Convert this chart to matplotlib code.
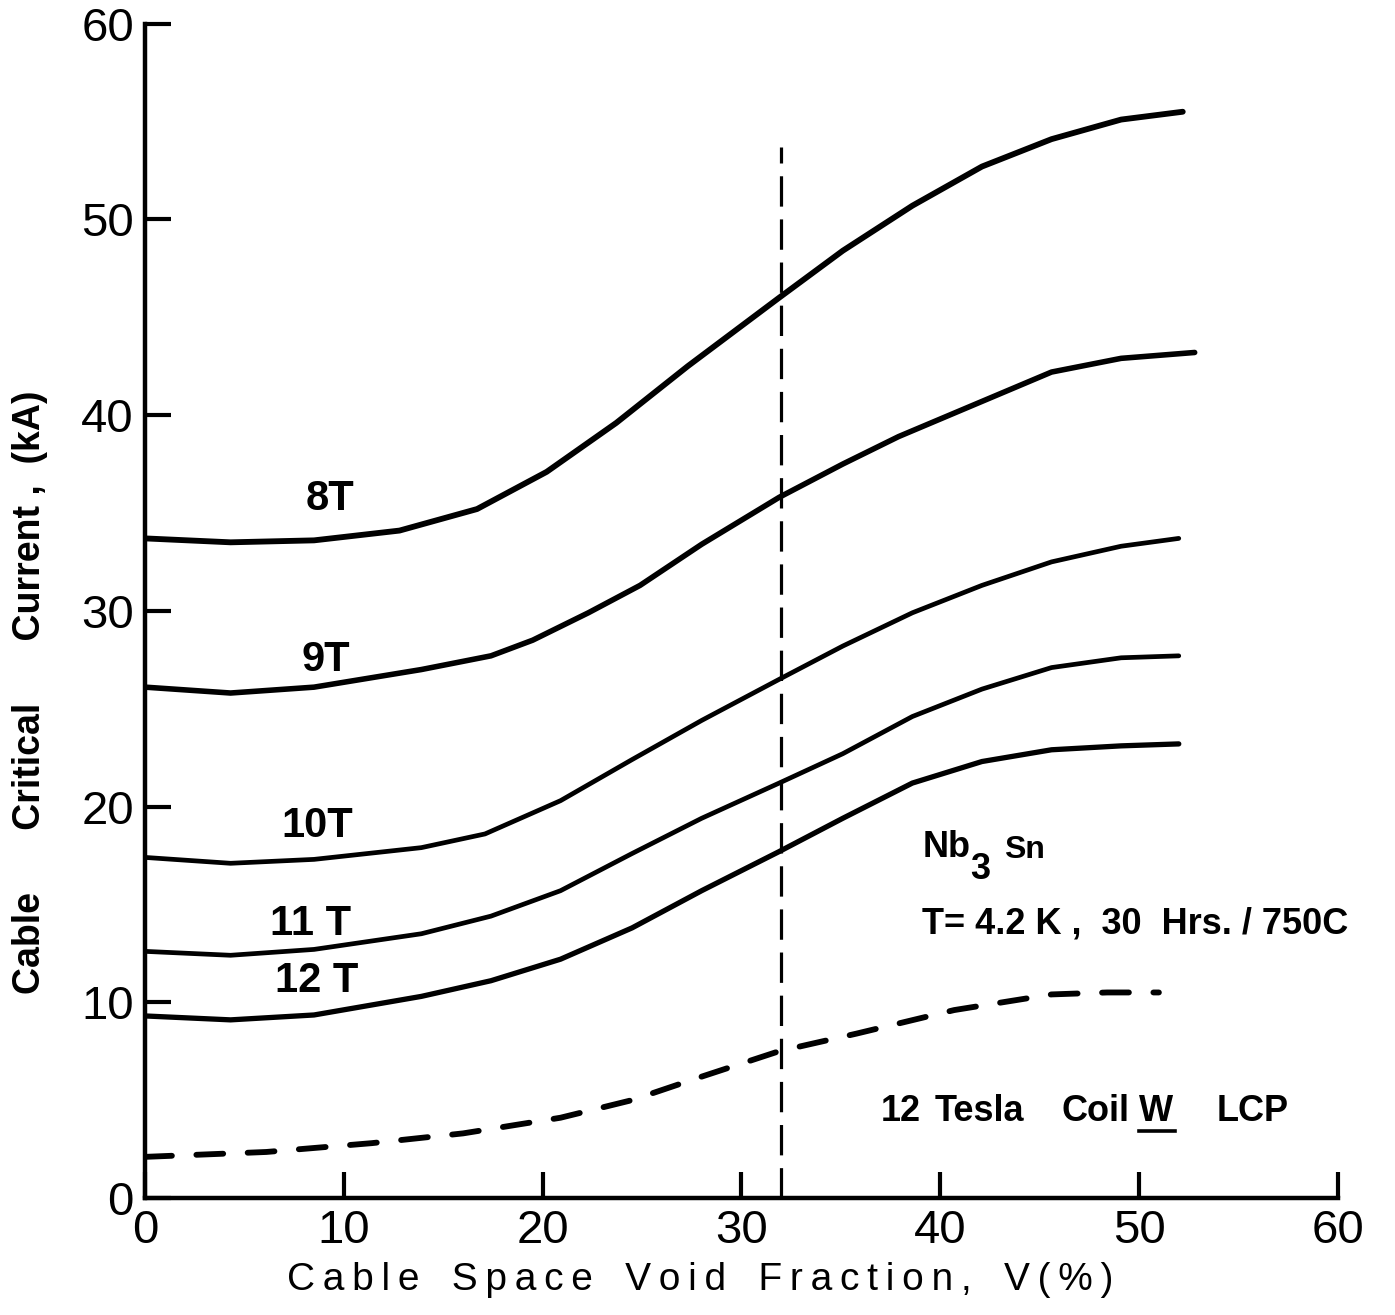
import matplotlib.pyplot as plt

# critical current (kA) vs cable space void fraction (%)
v_8t = [0, 4.3, 8.5, 12.8, 16.7, 20.2, 23.7, 27.3, 31.9, 35.1, 38.6, 42.1, 45.6, 49.1, 52.2]
ic_8t = [33.7, 33.5, 33.6, 34.1, 35.2, 37.1, 39.6, 42.5, 46.0, 48.4, 50.7, 52.7, 54.1, 55.1, 55.5]

v_9t = [0, 4.3, 8.5, 13.9, 17.4, 19.5, 22.3, 24.9, 28.0, 31.9, 35.1, 37.9, 41.4, 45.6, 49.1, 52.8]
ic_9t = [26.1, 25.8, 26.1, 27.0, 27.7, 28.5, 29.9, 31.3, 33.4, 35.8, 37.5, 38.9, 40.4, 42.2, 42.9, 43.2]

v_10t = [0, 4.3, 8.5, 13.9, 17.1, 20.9, 24.5, 28.0, 31.9, 35.1, 38.6, 42.1, 45.6, 49.1, 52.0]
ic_10t = [17.4, 17.1, 17.3, 17.9, 18.6, 20.3, 22.4, 24.4, 26.5, 28.2, 29.9, 31.3, 32.5, 33.3, 33.7]

v_11t = [0, 4.3, 8.5, 13.9, 17.4, 20.9, 24.5, 28.0, 31.9, 35.1, 38.6, 42.1, 45.6, 49.1, 52.0]
ic_11t = [12.6, 12.4, 12.7, 13.5, 14.4, 15.7, 17.6, 19.4, 21.2, 22.7, 24.6, 26.0, 27.1, 27.6, 27.7]

v_12t = [0, 4.3, 8.5, 13.9, 17.4, 20.9, 24.5, 28.0, 31.9, 35.1, 38.6, 42.1, 45.6, 49.1, 52.0]
ic_12t = [9.3, 9.1, 9.35, 10.3, 11.1, 12.2, 13.8, 15.7, 17.7, 19.4, 21.2, 22.3, 22.9, 23.1, 23.2]

# 12 Tesla coil W, LCP (dashed)
v_coil = [0, 6.1, 11.4, 16.0, 20.9, 24.5, 28.0, 31.9, 35.8, 40.7, 45.6, 48.4, 51.0]
ic_coil = [2.1, 2.35, 2.8, 3.3, 4.1, 5.0, 6.2, 7.5, 8.4, 9.6, 10.4, 10.5, 10.5]

curves = [("8T", v_8t, ic_8t, 9.3, 35.7, 4.2),
          ("9T", v_9t, ic_9t, 9.1, 27.5, 4.0),
          ("10T", v_10t, ic_10t, 8.65, 19.0, 3.4),
          ("11 T", v_11t, ic_11t, 8.3, 14.0, 3.4),
          ("12 T", v_12t, ic_12t, 8.65, 11.1, 3.8)]

v_design = 32
ticks = [0, 10, 20, 30, 40, 50, 60]

plt.rcParams['font.family'] = ['Liberation Sans', 'DejaVu Sans']

fig = plt.figure(figsize=(13.95, 13.15), dpi=100)
ax = fig.add_axes([0.104, 0.089, 0.855, 0.893])

for name, vx, ic, lx, ly, lw in curves:
    ax.plot(vx, ic, color="black", lw=lw, solid_capstyle="round", solid_joinstyle="round")
    ax.text(lx, ly, name, fontsize=30, fontweight="bold", ha="center", va="center")

ax.plot(v_coil, ic_coil, color="black", lw=4.2, dashes=(4.6, 4.2), dash_capstyle="round")
ax.plot([v_design, v_design], [0, 53.7], color="black", lw=2.3, dashes=(9.5, 4))

# annotations
ax.text(39.1, 17.9, "Nb", fontsize=26, fontweight="bold", va="center")
ax.text(41.5, 16.8, "3", fontsize=26, fontweight="bold", va="center")
ax.text(43.2, 17.8, "Sn", fontsize=23, fontweight="bold", va="center")
ax.text(39.1, 14.0, "T= 4.2 K ,  30  Hrs. / 750C", fontsize=26, fontweight="bold", va="center")

ax.text(37.0, 4.4, "12", fontsize=26, fontweight="bold", va="center")
ax.text(39.7, 4.4, "Tesla", fontsize=26, fontweight="bold", va="center")
ax.text(46.1, 4.4, "Coil", fontsize=26, fontweight="bold", va="center")
ax.text(50.0, 4.4, "W", fontsize=26, fontweight="bold", va="center")
ax.text(53.9, 4.4, "LCP", fontsize=26, fontweight="bold", va="center")
ax.plot([50.0, 51.8], [3.4, 3.4], color="black", lw=2.6)

ax.set_xlim(0, 60)
ax.set_ylim(0, 60)
ax.set_xticks(ticks)
ax.set_yticks(ticks)
ax.tick_params(direction="in", length=19, width=3, labelsize=34, pad=8)
for s in ["top", "right"]:
    ax.spines[s].set_visible(False)
for s in ["left", "bottom"]:
    ax.spines[s].set_linewidth(3.2)

thin = "\u2009"
xlabel = "   ".join(thin.join(w) for w in ["Cable", "Space", "Void", "Fraction,", "V(%)"])
fig.text(700 / 1395, 1 - 1280 / 1315, xlabel, fontsize=28, ha="center", va="center")
fig.text(30 / 1395, 1 - 692 / 1315, "Cable      Critical      Current ,  (kA)", fontsize=27,
         fontweight="bold", rotation=90, ha="center", va="center")

fig.savefig("out.png", dpi=100)
